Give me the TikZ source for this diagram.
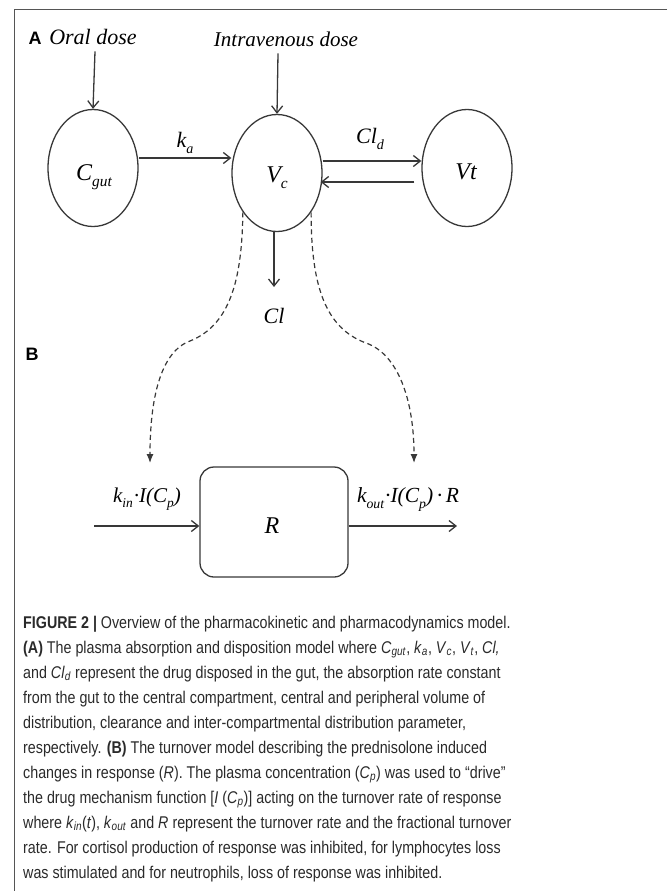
\documentclass[tikz,border=0pt]{standalone}
\usepackage{fontspec}
\usepackage{graphicx}
\setmainfont{Liberation Serif}
\newfontfamily\capfont[FakeStretch=0.84]{Liberation Sans}
\newfontfamily\tagfont{Liberation Sans}
\usetikzlibrary{arrows.meta,shapes.geometric,calc}
\definecolor{ln}{HTML}{383838}
\definecolor{framec}{HTML}{555555}
\definecolor{capc}{HTML}{2A2A2A}
\newcommand\lsub[1]{\raisebox{-0.28em}{\scalebox{0.64}{#1}}}
\newcommand\csub[1]{\textsubscript{\textit{#1}}}
\begin{document}
\begin{tikzpicture}[x=1pt,y=-1pt,
  comp/.style={draw=ln, line width=1.3pt, ellipse, minimum width=90pt, minimum height=117pt, inner sep=0pt},
  arr/.style={draw=ln, line width=1.3pt, -{Straight Barb[length=7pt,width=11pt]}},
  dsh/.style={draw=ln, line width=1.2pt, dash pattern=on 5pt off 3.5pt, -{Latex[length=9pt,width=7pt]}},
  lbl/.style={font=\fontsize{22}{26}\selectfont\itshape, inner sep=0pt, text=black},
  inlbl/.style={font=\fontsize{24}{28}\selectfont\itshape, inner sep=0pt, text=black, anchor=base},
  tag/.style={font=\tagfont\bfseries\fontsize{18}{20}\selectfont, inner sep=0pt, anchor=base},
  captxt/.style={anchor=base west, inner sep=0pt, font=\capfont\fontsize{17}{20}\selectfont, text=capc}]
\useasboundingbox (0,0) rectangle (667,891);
\draw[framec, line width=1.5pt] (667,9.5) -- (14.5,9.5) -- (14.5,891);

% panel labels
\node[tag] (tA) at (35,45) {A};
\node[tag] (tB) at (32,360) {B};

% doses
\node[lbl, anchor=base] (oral) at (93,45) {Oral dose};
\node[lbl, anchor=base, font=\fontsize{21}{25}\selectfont\itshape] (iv) at (286,47) {Intravenous dose};

% compartments
\node[comp] (Cg) at (93,168) {};
\node[comp] (Vc) at (277,173) {};
\node[comp] (Vt) at (467,168) {};
\node[inlbl] (CgL) at (94,180) {C\lsub{gut}};
\node[inlbl] (VcL) at (277,182) {V\lsub{c}};
\node[inlbl] (VtL) at (466,179) {Vt};

\draw[arr] ($(oral.south)+(2,6)$) -- (Cg.north);
\draw[arr] ($(iv.south -| Vc.north)+(1,6)$) -- (Vc.north);

% ka
\coordinate (ka1) at ($(Cg.east)+(0,-10)$);
\draw[arr] (ka1) -- (ka1 -| Vc.west);
\node[lbl, anchor=base] (kaL) at (185,147) {k\lsub{a}};

% Cld
\coordinate (cd1) at ($(Vc.east)+(0,-12)$);
\coordinate (cd2) at ($(Vt.west)+(-7,14)$);
\draw[arr] (cd1) -- (cd1 -| Vt.west);
\draw[arr] (cd2) -- ($(cd2 -| Vc.east)+(-2,0)$);
\node[lbl, anchor=base] (cdL) at (370,143) {Cl\lsub{d}};

% Cl
\coordinate (clend) at (274,287);
\draw[arr] (Vc.south -| clend) -- (clend);
\node[lbl, anchor=base] (clL) at (274,323) {Cl};

% turnover box
\node[draw=ln, line width=1.3pt, rounded corners=14pt, minimum width=148pt, minimum height=110pt, inner sep=0pt] (R) at (274,522) {};
\node[inlbl] (RL) at (272,533) {R};
\coordinate (inS) at (94,526);
\coordinate (outE) at (457,526);
\draw[arr] (inS) -- (inS -| R.west);
\draw[arr] (R.east |- outE) -- (outE);
\node[lbl, anchor=base, font=\fontsize{21}{25}\selectfont\itshape] (kinL) at (147,502) {k\lsub{in}\kern1pt\textperiodcentered I(C\lsub{p})};
\node[lbl, anchor=base, font=\fontsize{21.5}{25}\selectfont\itshape] (koutL) at (408,502) {k\lsub{out}\kern1pt\textperiodcentered I(C\lsub{p})\,\textperiodcentered\,R};

% dashed drug effect links
\coordinate (dA) at (150,463);
\coordinate (dB) at (414,463);
\draw[dsh] (Vc.229) .. controls (242,280) and (230,325) .. (190,341) .. controls (160,352) and (150,400) .. (dA);
\draw[dsh] (Vc.311) .. controls (311,285) and (325,328) .. (366,343) .. controls (398,354) and (414,400) .. (dB);

% caption
\node[captxt] (c1) at (23,628) {\textbf{FIGURE 2 |} Overview of the pharmacokinetic and pharmacodynamics model.};
\node[captxt] (c2) at (23,653) {\textbf{(A)} The plasma absorption and disposition model where \textit{C}\csub{gut}, \textit{k}\csub{a}, \textit{V}\csub{c}, \textit{V}\csub{t}, \textit{Cl,}};
\node[captxt] (c3) at (23,678) {and \textit{Cl}\csub{d} represent the drug disposed in the gut, the absorption rate constant};
\node[captxt] (c4) at (23,703) {from the gut to the central compartment, central and peripheral volume of};
\node[captxt] (c5) at (23,728) {distribution, clearance and inter-compartmental distribution parameter,};
\node[captxt] (c6) at (23,753) {respectively. \textbf{(B)} The turnover model describing the prednisolone induced};
\node[captxt] (c7) at (23,778) {changes in response (\textit{R}). The plasma concentration (\textit{C}\csub{p}) was used to “drive”};
\node[captxt] (c8) at (23,803) {the drug mechanism function [\textit{I} (\textit{C}\csub{p})] acting on the turnover rate of response};
\node[captxt] (c9) at (23,828) {where \textit{k}\csub{in}(\textit{t}), \textit{k}\csub{out} and \textit{R} represent the turnover rate and the fractional turnover};
\node[captxt] (c10) at (23,853) {rate. For cortisol production of response was inhibited, for lymphocytes loss};
\node[captxt] (c11) at (23,878) {was stimulated and for neutrophils, loss of response was inhibited.};
\end{tikzpicture}
\end{document}
